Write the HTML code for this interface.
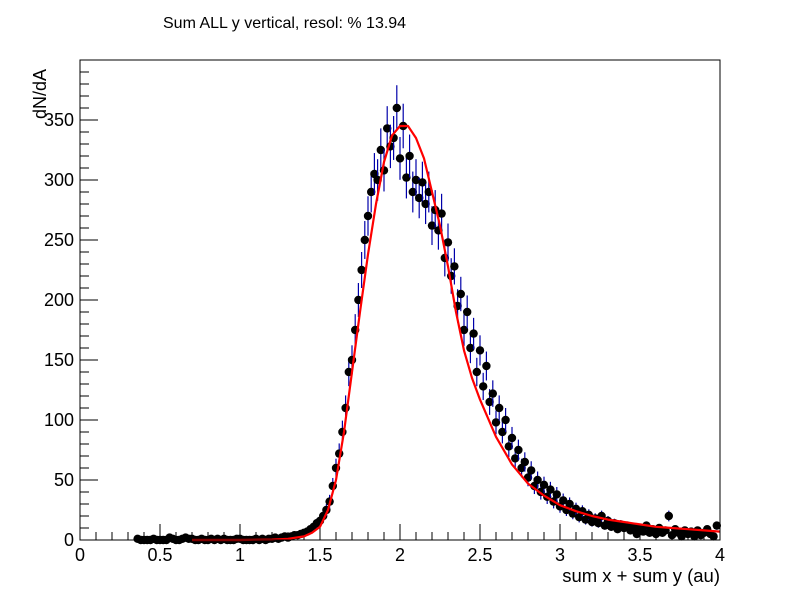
<!DOCTYPE html>
<html><head><meta charset="utf-8"><style>
body{margin:0;background:#fff}
svg{font-family:"Liberation Sans",sans-serif}
</style></head><body>
<svg id="c" width="800" height="600" xmlns="http://www.w3.org/2000/svg">
<rect width="800" height="600" fill="#fff"/>
<text x="163" y="28" font-size="16">Sum ALL y vertical, resol: % 13.94</text>
<text transform="translate(46,119) rotate(-90)" font-size="18">dN/dA</text>
<text x="720" y="582" font-size="18.5" text-anchor="end">sum x + sum y (au)</text>
<g id="ticks"></g><g id="marks"></g>
<rect x="80" y="60" width="640" height="480" fill="none" stroke="#000"/>
</svg>
<script>
const xStart = 0.36, xStep = 0.02;
const counts = [1,0,0,0,0,1,0,0,0,0,2,1,0,0,1,2,1,1,0,0,1,0,0,1,0,1,0,1,0,0,0,1,1,0,0,0,0,1,0,1,0,1,
1,2,1,2,3,2,3,4,4,5,6,7,9,11,14,16,20,25,32,45,60,72,90,110,140,150,175,200,225,250,
270,290,305,300,325,308,343,328,335,360,318,345,302,320,290,300,285,298,280,290,262,275,258,272,235,248,220,228,195,205,175,190,160,172,140,158,128,145,115,122,98,110,90,100,78,85,68,75,60,65,52,58,45,50,40,46,36,42,32,38,28,33,25,30,22,26,19,24,17,21,15,18,14,20,12,16,11,14,9,13,10,12,8,11,5,10,7,12,6,9,5,10,6,8,20,4,9,6,3,8,5,7,3,8,4,6,9,5,3,12];
const fitX = [0.7,1.0,1.2,1.3,1.4,1.45,1.5,1.55,1.6,1.65,1.7,1.75,1.8,1.85,1.9,1.95,2.0,2.05,2.1,2.15,2.2,2.25,2.3,2.35,2.4,2.45,2.5,2.6,2.7,2.8,2.9,3.0,3.1,3.2,3.3,3.4,3.5,3.6,3.7,3.8,3.9,4.0];
const fitY = [0,0,0.3,1,3,6,11,25,50,90,140,190,238,280,315,337,345,345,335,318,290,262,228,190,158,135,117,86,63,47,37,29,24,20,17,15,13,11,10,9,8,7];
const xTicks = [0,0.5,1,1.5,2,2.5,3,3.5,4];
const yTicks = [0,50,100,150,200,250,300,350];
const X = v => 80 + v*160;
const Y = v => 540 - v*1.2;
const NS = "http://www.w3.org/2000/svg";
function mk(tag, attrs, parent){const e=document.createElementNS(NS,tag);for(const k in attrs)e.setAttribute(k,attrs[k]);parent.appendChild(e);return e;}
const tg = document.getElementById('ticks');
for(let i=0;i<=40;i++){const x=X(i*0.1);const L=(i%5===0)?16:8;
 const t=mk('line',{x1:x,x2:x,y1:540,y2:540-L,stroke:'#000'},tg);
 
 }
xTicks.forEach(v=>{const t=mk('text',{x:X(v),y:561,'font-size':18,'text-anchor':'middle'},tg);t.textContent=String(v);
 
 });
for(let v=0;v<=400;v+=10){const y=Y(v);const L=(v%50===0)?18:9;
 const t=mk('line',{x1:80,x2:80+L,y1:y,y2:y,stroke:'#000'},tg);
 
 }
yTicks.forEach(v=>{const t=mk('text',{x:74,y:Y(v)+6,'font-size':18,'text-anchor':'end'},tg);t.textContent=String(v);
 
 });
const mg = document.getElementById('marks');
counts.forEach((c,i)=>{const xv=xStart+i*xStep;const x=X(xv);const e=Math.sqrt(c);
 if(c>0){const l=mk('line',{x1:x,x2:x,y1:Y(c+e),y2:Y(c-e),stroke:'#0000aa','stroke-width':1.2},mg);
 
 }
 const p=mk('circle',{cx:x,cy:Y(c),r:4.2,fill:'#000'},mg);
 
 });
const d = fitX.map((v,i)=>(i?'L':'M')+X(v).toFixed(1)+','+Y(fitY[i]).toFixed(1)).join('');
const fp = mk('path',{d:d,fill:'none',stroke:'#ff0000','stroke-width':2.2,'stroke-linejoin':'round'},mg);


</script>
</body></html>
